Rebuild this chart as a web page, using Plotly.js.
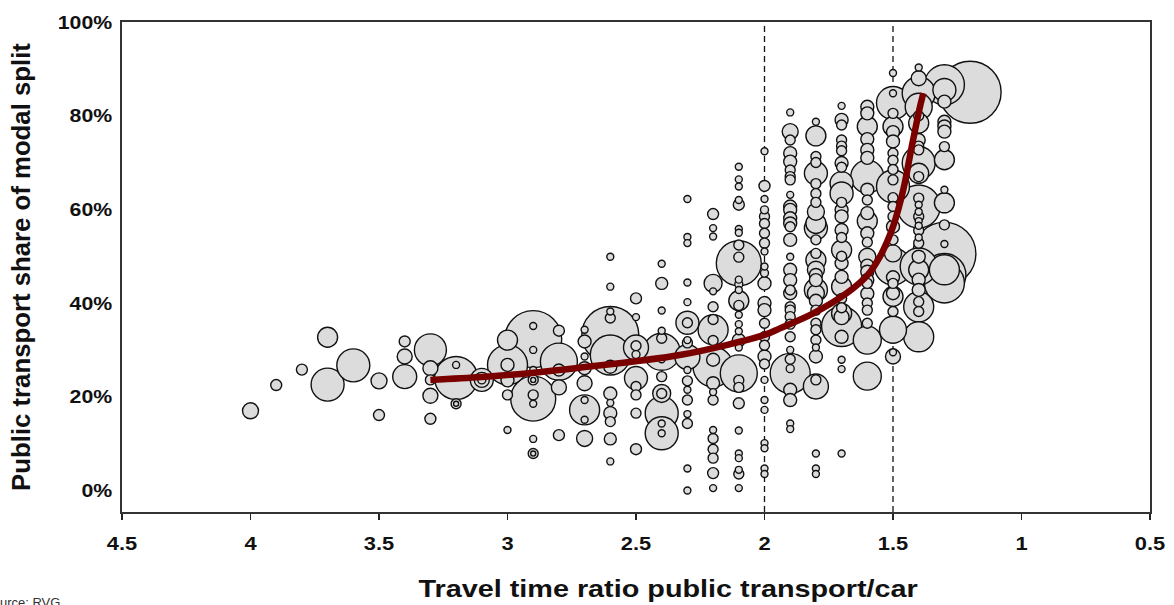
<!DOCTYPE html>
<html>
<head>
<meta charset="utf-8">
<script src="https://cdn.plot.ly/plotly-3.0.1.min.js"></script>
<style>
html,body{margin:0;padding:0;background:#fff;}
#chart{width:1174px;height:605px;}
</style>
</head>
<body>
<div id="chart"></div>
<script>
// Travel time ratio columns (x)
const colRatio = [4.0, 3.9, 3.8, 3.7, 3.6, 3.5, 3.4, 3.3, 3.2, 3.1, 3.0, 2.9, 2.8, 2.7, 2.6, 2.5, 2.4, 2.3, 2.2, 2.1, 2.0, 1.9, 1.8, 1.7, 1.6, 1.5, 1.4, 1.3, 1.2];
// Public transport share (%) per column
const colShare = [
  [17.0],
  [22.5],
  [25.8],
  [32.7, 22.6],
  [26.7],
  [23.4, 16.1],
  [31.8, 28.6, 24.3],
  [30.0, 26.1, 23.6, 20.2, 15.3],
  [24.0, 26.8, 18.5, 18.5],
  [23.6, 23.6, 23.6],
  [32.1, 26.8, 26.8, 23.5, 20.4, 12.9],
  [32.3, 19.6, 35.1, 30.0, 25.7, 23.6, 23.6, 20.4, 18.5, 11.0, 7.9, 7.9],
  [34.1, 27.5, 25.7, 22.0, 11.8],
  [34.3, 31.8, 28.6, 26.1, 22.9, 19.3, 17.2, 15.1, 11.1],
  [49.9, 43.5, 38.2, 36.8, 33.2, 28.9, 26.4, 20.7, 18.7, 16.5, 14.7, 11.0, 6.2],
  [41.0, 37.0, 30.9, 30.5, 29.0, 24.0, 22.2, 20.4, 16.5, 8.8],
  [48.4, 44.2, 38.4, 34.1, 32.5, 29.6, 28.0, 24.3, 20.7, 20.7, 16.5, 14.3, 12.2, 12.2],
  [62.2, 54.1, 52.8, 44.4, 40.2, 35.8, 35.8, 32.1, 31.5, 28.5, 25.7, 23.4, 21.5, 19.3, 16.3, 14.3, 4.7, 0.0],
  [59.0, 56.0, 54.2, 44.2, 42.5, 39.2, 36.5, 34.3, 32.0, 27.9, 26.4, 22.9, 21.0, 19.3, 12.9, 11.1, 8.8, 6.9, 3.7, 0.5],
  [69.1, 66.4, 64.9, 62.0, 61.0, 55.8, 55.0, 52.4, 49.8, 48.5, 45.0, 44.0, 42.8, 40.5, 39.5, 37.5, 35.5, 34.0, 32.1, 30.5, 25.0, 23.5, 22.0, 18.6, 12.8, 7.9, 6.9, 4.4, 3.5, 0.5],
  [72.4, 65.0, 62.2, 59.9, 58.5, 57.0, 54.9, 52.8, 51.0, 47.8, 46.4, 44.2, 40.0, 38.5, 35.7, 32.8, 31.0, 28.6, 27.0, 23.6, 19.3, 17.2, 10.1, 9.0, 4.7, 3.5],
  [80.7, 76.6, 74.8, 72.0, 70.2, 68.4, 67.0, 66.3, 63.1, 60.6, 59.9, 58.1, 57.0, 56.3, 53.5, 49.9, 47.1, 44.9, 42.8, 42.1, 39.2, 38.5, 37.1, 35.5, 32.8, 30.0, 28.0, 26.0, 25.0, 21.5, 19.3, 14.3, 13.1],
  [78.7, 75.7, 71.3, 70.0, 67.7, 65.5, 63.4, 61.5, 59.5, 57.0, 56.0, 53.5, 50.6, 49.2, 47.1, 46.0, 44.9, 42.8, 42.1, 40.5, 38.5, 35.7, 34.3, 32.1, 30.5, 28.6, 23.6, 22.2, 7.9, 4.7, 3.5],
  [82.1, 79.1, 78.0, 74.8, 73.5, 72.5, 69.9, 69.0, 65.6, 63.4, 61.5, 59.9, 58.5, 55.6, 54.0, 51.3, 50.0, 48.5, 45.6, 43.5, 41.0, 39.0, 37.8, 37.0, 35.0, 32.8, 27.9, 25.9, 7.9],
  [81.9, 80.5, 77.7, 75.0, 72.7, 71.0, 67.0, 64.2, 62.0, 59.2, 57.5, 54.9, 53.0, 49.9, 48.0, 46.7, 44.9, 44.2, 42.0, 40.0, 38.5, 35.7, 32.1, 24.4],
  [89.1, 84.8, 82.7, 80.5, 77.7, 76.5, 74.5, 72.0, 70.5, 68.5, 66.3, 64.9, 62.5, 60.6, 58.5, 56.3, 53.5, 50.6, 47.8, 45.5, 44.2, 42.1, 41.4, 38.2, 34.3, 29.5, 28.6],
  [90.3, 88.0, 84.8, 81.9, 80.0, 78.4, 74.8, 73.5, 72.7, 69.9, 67.7, 67.0, 62.4, 61.0, 60.6, 59.5, 58.5, 57.5, 56.5, 55.5, 54.0, 52.8, 49.9, 47.8, 47.1, 45.0, 42.8, 40.3, 39.2, 38.2, 32.8],
  [86.6, 85.5, 83.0, 78.7, 77.7, 76.6, 73.4, 70.6, 64.2, 61.4, 56.7, 52.6, 50.5, 47.1, 46.0, 44.3],
  [85.0]
];
// Bubble weight (drawn as marker diameter) per column
const colWeight = [
  [16],
  [11],
  [11],
  [20, 33],
  [33],
  [16, 11],
  [11, 15, 24],
  [32, 15, 10, 15, 11],
  [43, 7, 10, 5],
  [23, 15, 8],
  [20, 40, 13, 13, 10, 7],
  [57, 45, 7, 7, 7, 10, 5, 10, 7, 7, 10, 5],
  [11, 37, 12, 15, 11],
  [7, 13, 7, 13, 15, 7, 30, 7, 16],
  [7, 7, 7, 10, 57, 40, 13, 13, 7, 13, 10, 12, 7],
  [11, 7, 10, 25, 8, 23, 10, 10, 10, 11],
  [7, 12, 7, 7, 10, 37, 7, 10, 18, 10, 33, 7, 33, 7],
  [7, 7, 7, 7, 7, 23, 10, 7, 10, 25, 7, 10, 7, 10, 7, 10, 7, 7],
  [11, 7, 7, 18, 7, 10, 10, 30, 10, 13, 40, 13, 7, 10, 7, 10, 10, 10, 11, 7],
  [7, 7, 7, 7, 11, 7, 7, 10, 10, 45, 7, 8, 7, 20, 10, 7, 7, 7, 13, 7, 37, 10, 10, 11, 7, 7, 7, 7, 10, 7],
  [7, 11, 7, 8, 10, 10, 10, 10, 7, 7, 8, 13, 13, 13, 10, 10, 10, 13, 10, 7, 7, 7, 7, 7, 7, 7],
  [7, 16, 10, 13, 13, 10, 10, 10, 7, 13, 13, 13, 13, 10, 13, 7, 13, 13, 10, 13, 10, 10, 10, 10, 10, 7, 10, 8, 40, 13, 13, 7, 7],
  [7, 20, 10, 10, 23, 10, 10, 10, 17, 20, 23, 10, 10, 20, 17, 13, 13, 23, 17, 13, 10, 10, 10, 10, 7, 13, 10, 25, 7, 7, 7],
  [7, 13, 10, 10, 10, 10, 13, 10, 23, 23, 10, 13, 13, 13, 10, 20, 10, 13, 13, 20, 10, 10, 20, 15, 40, 13, 7, 7, 7],
  [13, 13, 20, 13, 13, 13, 33, 13, 10, 13, 20, 13, 10, 17, 13, 13, 13, 10, 13, 10, 10, 10, 28, 28],
  [7, 7, 33, 10, 20, 13, 13, 10, 10, 10, 10, 33, 10, 10, 10, 13, 10, 17, 37, 13, 10, 13, 20, 10, 27, 7, 15],
  [7, 15, 33, 27, 10, 20, 13, 10, 10, 33, 20, 10, 10, 7, 43, 7, 10, 7, 7, 10, 7, 10, 13, 37, 20, 13, 13, 10, 30, 10, 30],
  [40, 23, 13, 13, 13, 13, 10, 20, 7, 20, 10, 7, 63, 30, 43, 40],
  [62]
];
// Fitted curve
const curveRatio = [3.30, 3.10, 2.87, 2.72, 2.33, 2.00, 1.94, 1.81, 1.68, 1.60, 1.55, 1.50, 1.46, 1.427, 1.395, 1.382];
const curveShare = [23.6, 24.2, 25.3, 26.2, 28.9, 33.2, 34.6, 37.8, 42.1, 45.9, 50.0, 56.3, 64.2, 73.4, 81.9, 84.8];
// Axis ticks and texts
const xTicks = [4.5, 4, 3.5, 3, 2.5, 2, 1.5, 1, 0.5];
const xTickText = ['4.5', '4', '3.5', '3', '2.5', '2', '1.5', '1', '0.5'];
const yTicks = [0, 20, 40, 60, 80, 100];
const yTickText = ['0%', '20%', '40%', '60%', '80%', '100%'];
const refLines = [2, 1.5];
const xTitle = 'Travel time ratio public transport/car';
const yTitle = 'Public transport share of modal split';
const sourceNote = 'Source: RVG';

// flatten, largest bubbles first so small ones stay visible on top
let pts = [];
colRatio.forEach((r, i) => {
  const s = colShare[i], w = colWeight[i];
  for (let k = 0; k < Math.min(s.length, w.length); k++) pts.push({x: r, y: s[k], w: w[k]});
});
pts.sort((a, b) => b.w - a.w);

const FONT = 'Liberation Sans, Arial, sans-serif';

const bubbles = {
  type: 'scatter', mode: 'markers',
  x: pts.map(p => p.x), y: pts.map(p => p.y),
  marker: {
    size: pts.map(p => p.w), sizemode: 'diameter', sizeref: 1,
    color: '#dcdcdc', opacity: 1,
    line: {color: '#111', width: 1.4}
  },
  hoverinfo: 'x+y', showlegend: false, cliponaxis: false
};
const curve = {
  type: 'scatter', mode: 'lines',
  x: curveRatio, y: curveShare,
  line: {color: '#7a0000', width: 6.5, shape: 'spline', smoothing: 0.9},
  showlegend: false, hoverinfo: 'skip'
};

const layout = {
  width: 1174, height: 605,
  margin: {l: 122, r: 24, t: 22, b: 93, pad: 0},
  paper_bgcolor: '#fff', plot_bgcolor: 'rgba(0,0,0,0)',
  font: {family: FONT, color: '#111'},
  showlegend: false,
  xaxis: {
    range: [4.5, 0.5], tickvals: xTicks, ticktext: xTickText,
    ticks: 'outside', ticklen: 6, tickwidth: 1.5, tickcolor: '#222',
    showline: true, linecolor: '#333', linewidth: 2, mirror: true,
    showgrid: false, zeroline: false,
    tickfont: {family: FONT, size: 19, weight: 'bold', color: '#111'},
    ticklabelstandoff: 7
  },
  yaxis: {
    range: [-4.6, 100], tickvals: yTicks, ticktext: yTickText,
    ticks: '', showline: true, linecolor: '#333', linewidth: 2, mirror: true,
    showgrid: false, zeroline: false,
    tickfont: {family: FONT, size: 19, weight: 'bold', color: '#111'},
    ticklabelstandoff: 4,
    title: {text: yTitle, font: {family: FONT, size: 25, weight: 'bold', color: '#111'}, standoff: 26}
  },
  shapes: refLines.map(v => ({
    type: 'line', xref: 'x', yref: 'paper', x0: v, x1: v, y0: 0, y1: 1,
    line: {color: '#111', width: 1.3, dash: '6px,4px'}, layer: 'below'
  })),
  annotations: [
    {
      text: xTitle, xref: 'paper', yref: 'paper', x: 0.531, y: -0.157,
      xanchor: 'center', yanchor: 'middle', showarrow: false,
      font: {family: FONT, size: 24, weight: 'bold', color: '#111'}
    },
    {
      text: sourceNote, xref: 'paper', yref: 'paper', x: -0.058, y: -0.184,
      xanchor: 'right', yanchor: 'middle', showarrow: false,
      font: {family: FONT, size: 13, color: '#333'}
    }
  ]
};

Plotly.newPlot('chart', [bubbles, curve], layout, {displayModeBar: false, staticPlot: true}).then(gd => {
  // the reference lettering is a little wider than Arial: widen glyphs in place
  const widen = (sel, f) => gd.querySelectorAll(sel).forEach(t => {
    const L = t.getComputedTextLength();
    if (L > 0) { t.setAttribute('textLength', (L * f).toFixed(1)); t.setAttribute('lengthAdjust', 'spacingAndGlyphs'); }
  });
  widen('.xtick text', 1.15);
  widen('.ytick text', 1.12);
  widen('.g-ytitle text', 1.03);
  widen('.annotation[data-index="0"] text', 1.2);
});
</script>
</body>
</html>
